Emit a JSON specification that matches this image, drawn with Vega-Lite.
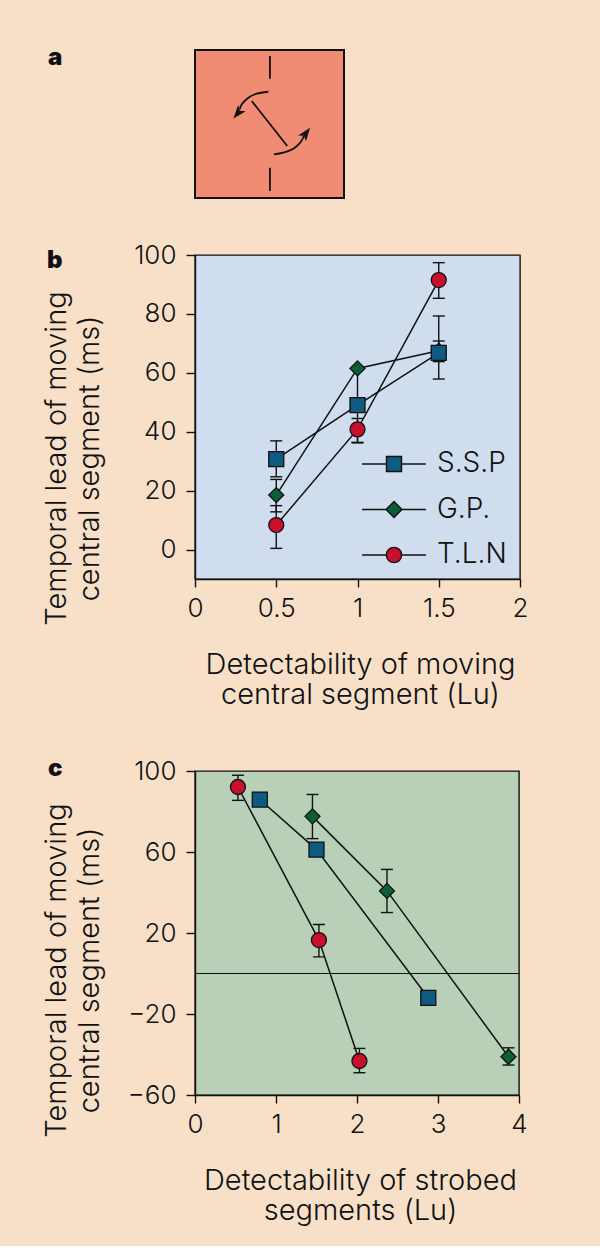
{
  "$schema": "https://vega.github.io/schema/vega-lite/v6.json",
  "background": "#F8E0C8",
  "padding": {"left": 41, "top": 45, "right": 73, "bottom": 20},
  "datasets": {
    "segments": [
      {"part": "top stationary segment", "x": 5.03, "y": 8.06, "x2": 5.03, "y2": 9.6},
      {"part": "bottom stationary segment", "x": 5.03, "y": 0.47, "x2": 5.03, "y2": 2.05},
      {"part": "moving central segment", "x": 3.81, "y": 6.55, "x2": 6.19, "y2": 3.51}
    ],
    "arcs": [
      {"arc": "ccw", "i": 0, "x": 4.92, "y": 7.18},
      {"arc": "ccw", "i": 1, "x": 4.14, "y": 7.05},
      {"arc": "ccw", "i": 2, "x": 3.58, "y": 6.78},
      {"arc": "ccw", "i": 3, "x": 3.15, "y": 6.35},
      {"arc": "ccw", "i": 4, "x": 3.02, "y": 6.01},
      {"arc": "cw", "i": 0, "x": 5.3, "y": 2.95},
      {"arc": "cw", "i": 1, "x": 5.93, "y": 3.06},
      {"arc": "cw", "i": 2, "x": 6.6, "y": 3.33},
      {"arc": "cw", "i": 3, "x": 7.05, "y": 3.72},
      {"arc": "cw", "i": 4, "x": 7.31, "y": 4.19}
    ],
    "heads": [
      {"arc": "ccw", "x": 2.88, "y": 5.74},
      {"arc": "cw", "x": 7.44, "y": 4.37}
    ],
    "bdata": [
      {"series": "G.P.", "x": 0.5, "y": 18.5, "lo": 12.8, "hi": 23.8},
      {"series": "G.P.", "x": 1, "y": 61.5, "lo": null, "hi": null},
      {"series": "G.P.", "x": 1.5, "y": 67.5, "lo": 63.8, "hi": 70.8},
      {"series": "T.L.N", "x": 0.5, "y": 8.3, "lo": 0.4, "hi": 14.9},
      {"series": "T.L.N", "x": 1, "y": 40.8, "lo": 36.4, "hi": 44.5},
      {"series": "T.L.N", "x": 1.5, "y": 91.5, "lo": 85.3, "hi": 97.4},
      {"series": "S.S.P", "x": 0.5, "y": 30.7, "lo": 24.7, "hi": 36.9},
      {"series": "S.S.P", "x": 1, "y": 49, "lo": 36.2, "hi": 61.5},
      {"series": "S.S.P", "x": 1.5, "y": 66.8, "lo": 57.9, "hi": 79.3}
    ],
    "cdata": [
      {"series": "G.P.", "x": 1.45, "y": 77.6, "lo": 66.6, "hi": 88.4},
      {"series": "G.P.", "x": 2.37, "y": 40.8, "lo": 30.1, "hi": 51.4},
      {"series": "G.P.", "x": 3.87, "y": -41.1, "lo": -45.2, "hi": -36.7},
      {"series": "T.L.N", "x": 0.53, "y": 92.1, "lo": 85.5, "hi": 97.9},
      {"series": "T.L.N", "x": 1.53, "y": 16.5, "lo": 8.2, "hi": 24.2},
      {"series": "T.L.N", "x": 2.03, "y": -43.2, "lo": -49, "hi": -37},
      {"series": "S.S.P", "x": 0.8, "y": 85.9, "lo": null, "hi": null},
      {"series": "S.S.P", "x": 1.5, "y": 61.2, "lo": null, "hi": null},
      {"series": "S.S.P", "x": 2.88, "y": -12, "lo": null, "hi": null}
    ]
  },
  "config": {
    "font": "Inter",
    "view": {"stroke": null},
    "axis": {
      "grid": false,
      "domainColor": "#111",
      "domainWidth": 1.4,
      "tickColor": "#111",
      "tickWidth": 1.4,
      "labelColor": "#111",
      "titleColor": "#111",
      "labelFont": "Inter",
      "titleFont": "Inter",
      "labelFontSize": 26,
      "titleFontSize": 29,
      "labelFontWeight": 300,
      "titleFontWeight": 300,
      "labelOverlap": false,
      "labelFlush": false
    },
    "axisX": {"tickSize": 8, "labelPadding": 8, "titleX": 165, "titleY": 71, "titleBaseline": "top", "titleAlign": "center", "titleLineHeight": 30},
    "axisY": {"tickSize": 9, "labelPadding": 10, "titleX": -124, "titleAngle": 270, "titleBaseline": "bottom", "titleAlign": "center", "titleLineHeight": 33},
    "title": {"font": "Inter", "fontSize": 24, "fontWeight": 900, "color": "#111", "anchor": "start", "frame": "group", "offset": 0, "baseline": "alphabetic"}
  },
  "resolve": {"scale": {"shape": "independent", "fill": "independent"}},
  "spacing": 46,
  "vconcat": [
    {
      "spacing": 42,
      "resolve": {"scale": {"shape": "independent", "fill": "independent"}},
      "vconcat": [
        {
          "width": 149,
          "height": 148,
          "view": {"fill": "#F08C74", "stroke": "#111", "strokeWidth": 2},
          "title": {"text": "a", "dx": -147, "dy": 24},
          "layer": [
            {
              "data": {"name": "segments"},
              "mark": {"type": "rule", "color": "#111", "strokeWidth": 1.8},
              "encoding": {
                "x": {"field": "x", "type": "quantitative", "scale": {"domain": [0, 10]}, "axis": null},
                "y": {"field": "y", "type": "quantitative", "scale": {"domain": [0, 10]}, "axis": null},
                "x2": {"field": "x2"},
                "y2": {"field": "y2"}
              }
            },
            {
              "data": {"name": "arcs"},
              "mark": {"type": "line", "color": "#111", "strokeWidth": 1.8, "interpolate": "cardinal"},
              "encoding": {
                "x": {"field": "x", "type": "quantitative", "axis": null},
                "y": {"field": "y", "type": "quantitative", "axis": null},
                "detail": {"field": "arc"},
                "order": {"field": "i"}
              }
            },
            {
              "data": {"name": "heads"},
              "transform": [{"filter": "datum.arc == 'ccw'"}],
              "mark": {"type": "point", "shape": "M0,-1L0.7,0.9L0,0.45L-0.7,0.9Z", "size": 196, "filled": true, "color": "#111", "opacity": 1, "angle": 220},
              "encoding": {
                "x": {"field": "x", "type": "quantitative", "axis": null},
                "y": {"field": "y", "type": "quantitative", "axis": null}
              }
            },
            {
              "data": {"name": "heads"},
              "transform": [{"filter": "datum.arc == 'cw'"}],
              "mark": {"type": "point", "shape": "M0,-1L0.7,0.9L0,0.45L-0.7,0.9Z", "size": 196, "filled": true, "color": "#111", "opacity": 1, "angle": 37},
              "encoding": {
                "x": {"field": "x", "type": "quantitative", "axis": null},
                "y": {"field": "y", "type": "quantitative", "axis": null}
              }
            }
          ]
        },
        {
          "width": 325,
          "height": 324,
          "view": {"fill": "#CFDDEE", "stroke": "#111", "strokeWidth": 1.4},
          "title": {"text": "b", "dx": -148, "dy": 35},
          "data": {"name": "bdata"},
          "resolve": {"scale": {"shape": "independent", "fill": "independent"}, "legend": {"shape": "independent", "fill": "independent"}},
          "encoding": {
            "x": {"field": "x", "type": "quantitative", "scale": {"domain": [0, 2], "nice": false},
              "axis": {"title": ["Detectability of moving", "central segment (Lu)"], "values": [0, 0.5, 1, 1.5, 2], "format": "~g"}},
            "y": {"field": "y", "type": "quantitative", "scale": {"domain": [-10, 100], "nice": false, "zero": false},
              "axis": {"title": ["Temporal lead of moving", "central segment (ms)"], "values": [0, 20, 40, 60, 80, 100], "titleY": 203}}
          },
          "layer": [
            {
              "mark": {"type": "line", "color": "#111", "strokeWidth": 1.5},
              "encoding": {"detail": {"field": "series"}}
            },
            {
              "transform": [{"filter": "isValid(datum.lo)"}],
              "mark": {"type": "rule", "color": "#111", "strokeWidth": 1.4},
              "encoding": {
                "y": {"field": "lo", "type": "quantitative"},
                "y2": {"field": "hi"}
              }
            },
            {
              "transform": [{"filter": "isValid(datum.lo)"}, {"fold": ["lo", "hi"], "as": ["end", "val"]}],
              "mark": {"type": "tick", "orient": "horizontal", "color": "#111", "thickness": 1.4, "size": 12, "opacity": 1},
              "encoding": {
                "y": {"field": "val", "type": "quantitative"}
              }
            },
            {
              "mark": {"type": "point", "filled": true, "size": 225, "stroke": "#111", "strokeWidth": 1.3, "opacity": 1},
              "encoding": {
                "shape": {"field": "series", "type": "nominal",
                  "scale": {"domain": ["S.S.P", "G.P.", "T.L.N"], "range": ["square", "diamond", "circle"]}, "legend": null},
                "fill": {"field": "series", "type": "nominal",
                  "scale": {"domain": ["S.S.P", "G.P.", "T.L.N"], "range": ["#0E5A80", "#0B5F38", "#C8102E"]}, "legend": null}
              }
            },
            {
              "transform": [{"filter": "false"}],
              "mark": {"type": "point", "filled": true, "size": 900, "stroke": "#111", "strokeWidth": 1.3, "opacity": 1},
              "encoding": {
                "shape": {"field": "series", "type": "nominal",
                  "scale": {"domain": ["S.S.P", "G.P.", "T.L.N"], "range": [
                    "M-2.13,0H-0.5M0.5,0H2.13M-0.5,-0.5H0.5V0.5H-0.5Z",
                    "M-2.13,0H-0.53M0.53,0H2.13M-0.53,0L0,-0.53L0.53,0L0,0.53Z",
                    "M-2.13,0H-0.51M0.51,0H2.13M0.51,0A0.51,0.51,0,1,1,-0.51,0A0.51,0.51,0,1,1,0.51,0Z"
                  ]},
                  "legend": {
                    "title": null, "orient": "none", "legendX": 183, "legendY": 193, "padding": 0,
                    "symbolSize": 900, "symbolStrokeColor": "#111", "symbolStrokeWidth": 1.4, "symbolOpacity": 1,
                    "labelFont": "Inter", "labelFontSize": 28, "labelFontWeight": 300, "labelColor": "#111",
                    "labelOffset": 27, "rowPadding": 15.5,
                    "encode": {"symbols": {"update": {"stroke": {"value": "#111"}, "strokeWidth": {"value": 1.4}, "opacity": {"value": 1}}}}
                  }},
                "fill": {"field": "series", "type": "nominal",
                  "scale": {"domain": ["S.S.P", "G.P.", "T.L.N"], "range": ["#0E5A80", "#0B5F38", "#C8102E"]},
                  "legend": {
                    "title": null, "orient": "none", "legendX": 183, "legendY": 193, "padding": 0,
                    "symbolSize": 900, "symbolStrokeColor": "#111", "symbolStrokeWidth": 1.4, "symbolOpacity": 1,
                    "labelFont": "Inter", "labelFontSize": 28, "labelFontWeight": 300, "labelColor": "#111",
                    "labelOffset": 27, "rowPadding": 15.5,
                    "encode": {"symbols": {"update": {"stroke": {"value": "#111"}, "strokeWidth": {"value": 1.4}, "opacity": {"value": 1}}}}
                  }}
              }
            }
          ]
        }
      ]
    },
    {
      "width": 324,
      "height": 324,
      "view": {"fill": "#B8CFB8", "stroke": "#111", "strokeWidth": 1.4},
      "title": {"text": "c", "dx": -147, "dy": 27},
      "data": {"name": "cdata"},
      "encoding": {
        "x": {"field": "x", "type": "quantitative", "scale": {"domain": [0, 4], "nice": false},
          "axis": {"title": ["Detectability of strobed", "segments (Lu)"], "values": [0, 1, 2, 3, 4], "format": "~g"}},
        "y": {"field": "y", "type": "quantitative", "scale": {"domain": [-60, 100], "nice": false, "zero": false},
          "axis": {"title": ["Temporal lead of moving", "central segment (ms)"], "values": [-60, -20, 20, 60, 100], "titleY": 199}}
      },
      "layer": [
        {
          "mark": {"type": "rule", "color": "#111", "strokeWidth": 1.2},
          "encoding": {
            "x": {"datum": 0, "type": "quantitative"},
            "x2": {"datum": 4},
            "y": {"datum": 0, "type": "quantitative"}
          }
        },
        {
          "mark": {"type": "line", "color": "#111", "strokeWidth": 1.5},
          "encoding": {"detail": {"field": "series"}}
        },
        {
          "transform": [{"filter": "isValid(datum.lo)"}],
          "mark": {"type": "rule", "color": "#111", "strokeWidth": 1.4},
          "encoding": {
            "y": {"field": "lo", "type": "quantitative"},
            "y2": {"field": "hi"}
          }
        },
        {
          "transform": [{"filter": "isValid(datum.lo)"}, {"fold": ["lo", "hi"], "as": ["end", "val"]}],
          "mark": {"type": "tick", "orient": "horizontal", "color": "#111", "thickness": 1.4, "size": 12, "opacity": 1},
          "encoding": {
            "y": {"field": "val", "type": "quantitative"}
          }
        },
        {
          "mark": {"type": "point", "filled": true, "size": 225, "stroke": "#111", "strokeWidth": 1.3, "opacity": 1},
          "encoding": {
            "shape": {"field": "series", "type": "nominal",
              "scale": {"domain": ["S.S.P", "G.P.", "T.L.N"], "range": ["square", "diamond", "circle"]}, "legend": null},
            "fill": {"field": "series", "type": "nominal",
              "scale": {"domain": ["S.S.P", "G.P.", "T.L.N"], "range": ["#0E5A80", "#0B5F38", "#C8102E"]}, "legend": null}
          }
        }
      ]
    }
  ]
}
